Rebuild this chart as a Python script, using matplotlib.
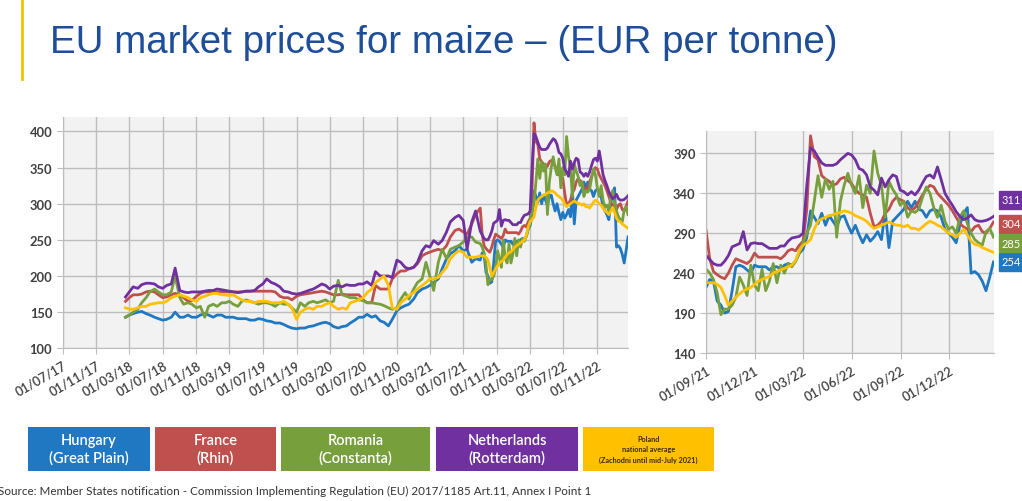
import matplotlib
matplotlib.use('Agg')
import matplotlib.pyplot as plt
import matplotlib.dates as mdates
from matplotlib.patches import Rectangle
from matplotlib.lines import Line2D
import pandas as pd

# ----- data ---------------------------------------------------------------
# semi-monthly readings Feb 2018 - Aug 2021, weekly readings Sep 2021 - Feb 2023
early_dates = pd.date_range('2018-02-15', '2021-08-15', freq='SMS')
weekly_dates = pd.date_range('2021-09-01', periods=78, freq='7D')

hungary_early = [143, 146, 148, 150, 151, 148, 146, 143, 141, 139, 140, 143, 150, 143, 143, 146, 143, 143, 146, 148, 146,
                 143, 146, 146, 143, 143, 143, 141, 141, 141, 139, 139, 141, 140, 138, 137, 135, 135, 133, 130, 128, 127, 128, 128, 130,
                 131, 133, 135, 136, 134, 130, 128, 130, 131, 135, 139, 143, 143, 147, 143, 145, 138, 136, 131, 140, 152, 156, 159, 161,
                 168, 177, 182, 184, 187, 191, 196, 210, 224, 231, 235, 242, 235, 237, 219, 224]
france_early = [165, 170, 174, 174, 175, 178, 179, 178, 174, 170, 171, 174, 176, 174, 170, 165, 166, 172, 176, 178, 178,
                179, 178, 178, 178, 178, 178, 178, 178, 179, 179, 179, 179, 179, 179, 179, 178, 172, 170, 170, 167, 172, 174, 175, 176,
                177, 178, 179, 178, 176, 174, 174, 175, 174, 174, 174, 174, 167, 163, 163, 187, 182, 182, 182, 196, 203, 207, 207, 210,
                212, 217, 228, 231, 233, 235, 237, 235, 242, 254, 263, 265, 261, 258, 272, 285]
romania_early = [143, 146, 150, 154, 163, 170, 178, 182, 178, 174, 174, 178, 200, 170, 161, 163, 161, 156, 158, 143, 158,
                 161, 158, 163, 163, 165, 161, 158, 165, 167, 165, 163, 161, 163, 163, 161, 158, 163, 161, 161, 156, 150, 163, 158, 163,
                 165, 163, 165, 167, 163, 165, 194, 174, 172, 170, 170, 167, 166, 163, 163, 162, 161, 159, 156, 154, 156, 168, 177, 168,
                 182, 191, 196, 219, 200, 180, 219, 237, 224, 237, 240, 242, 247, 254, 254, 247]
netherlands_early = [171, 178, 185, 183, 188, 190, 190, 189, 185, 183, 187, 189, 211, 180, 178, 177, 178, 178, 178, 179, 180,
                     180, 182, 181, 180, 179, 178, 177, 178, 179, 179, 180, 185, 189, 196, 191, 189, 185, 179, 178, 176, 175, 176, 178, 180,
                     182, 185, 189, 187, 182, 186, 187, 185, 188, 187, 187, 189, 189, 192, 187, 206, 200, 200, 200, 198, 222, 219, 212, 210,
                     212, 219, 235, 242, 240, 249, 244, 249, 261, 275, 281, 284, 277, 237, 275, 290]
poland_early = [156, 154, 154, 156, 158, 158, 161, 162, 163, 163, 165, 170, 172, 174, 172, 170, 167, 165, 170, 172, 174,
                176, 176, 174, 174, 173, 174, 170, 167, 165, 165, 163, 165, 165, 165, 163, 163, 163, 165, 161, 156, 140, 150, 154, 156,
                154, 158, 158, 161, 163, 158, 154, 156, 154, 163, 165, 167, 170, 177, 182, 191, 196, 200, 187, 156, 154, 163, 168, 173,
                177, 182, 187, 191, 196, 196, 198, 205, 212, 224, 231, 235, 233, 226, 226, 226]

hungary_weekly = [222, 232, 230, 205, 200, 190, 192, 218, 248, 250, 248, 244, 240,
                  250, 248, 248, 248, 244, 248, 248, 245, 250, 252, 250, 255, 265,
                  270, 285, 318, 310, 302, 315, 300, 312, 305, 298, 310, 312, 300,
                  290, 300, 288, 278, 288, 280, 285, 292, 282, 318, 272, 305, 310,
                  315, 320, 330, 322, 330, 320, 318, 310, 318, 320, 318, 310, 295,
                  290, 285, 278, 300, 315, 322, 240, 242, 238, 230, 218, 235, 254]
france_weekly = [294, 258, 242, 238, 235, 233, 240, 250, 258, 256, 254, 252, 256,
                 265, 260, 260, 260, 260, 260, 260, 258, 262, 268, 270, 268, 275,
                 280, 320, 412, 386, 382, 362, 358, 355, 350, 352, 358, 360, 356,
                 352, 345, 340, 338, 335, 315, 298, 300, 305, 315, 320, 330, 335,
                 332, 330, 322, 318, 322, 330, 338, 345, 350, 348, 340, 335, 330,
                 325, 318, 310, 302, 298, 295, 292, 298, 300, 292, 290, 296, 304]
romania_weekly = [245, 240, 232, 215, 188, 195, 195, 200, 210, 235, 225, 212, 250,
                  225, 218, 245, 218, 230, 252, 228, 250, 240, 252, 248, 255, 265,
                  278, 290, 300, 330, 362, 335, 358, 345, 355, 285, 330, 350, 365,
                  350, 340, 362, 322, 350, 340, 393, 365, 350, 310, 355, 345, 338,
                  325, 330, 310, 318, 316, 320, 335, 348, 340, 322, 310, 325, 305,
                  295, 298, 290, 310, 318, 302, 290, 282, 278, 275, 292, 296, 285]
netherlands_weekly = [262, 257, 252, 250, 250, 255, 262, 273, 275, 277, 292, 269, 277,
                      278, 277, 277, 274, 271, 271, 271, 274, 274, 280, 284, 285, 286,
                      290, 350, 397, 393, 385, 378, 375, 375, 375, 377, 382, 386, 390,
                      388, 382, 371, 369, 363, 348, 344, 338, 359, 348, 357, 363, 361,
                      344, 342, 338, 342, 338, 344, 353, 361, 363, 359, 373, 357, 340,
                      332, 325, 317, 311, 307, 309, 313, 307, 305, 305, 306, 308, 311]
poland_weekly = [228, 228, 228, 226, 222, 212, 200, 205, 210, 214, 218, 220, 222,
                 226, 230, 232, 234, 236, 240, 242, 244, 246, 248, 250, 256, 268,
                 275, 278, 282, 295, 305, 308, 310, 312, 313, 315, 316, 318, 317,
                 315, 312, 310, 308, 305, 300, 296, 298, 300, 302, 304, 302, 300,
                 300, 298, 300, 296, 296, 294, 298, 302, 305, 303, 300, 298, 294,
                 290, 288, 285, 290, 295, 288, 280, 276, 275, 272, 270, 268, 266]

countries = ['Hungary', 'France', 'Romania', 'Netherlands', 'Poland']
legend_labels = ['Hungary\n(Great Plain)', 'France\n(Rhin)', 'Romania\n(Constanta)',
                 'Netherlands\n(Rotterdam)', 'Poland\nnational average\n(Zachodni until mid-July 2021)']
colours = ['#1f78c1', '#c0504d', '#77a03c', '#7030a0', '#ffc000']

left_ticks = pd.date_range('2017-07-01', '2022-11-01', freq='4MS')
right_ticks = pd.date_range('2021-09-01', '2022-12-01', freq='3MS')

title = 'EU market prices for maize \u2013 (EUR per tonne)'
source = 'Source: Member States notification - Commission Implementing Regulation (EU) 2017/1185 Art.11, Annex I Point 1'

# ----- build series ---------------------------------------------------------
all_dates = early_dates.append(weekly_dates)
prices = pd.DataFrame({
    'Hungary': hungary_early + hungary_weekly,
    'France': france_early + france_weekly,
    'Romania': romania_early + romania_weekly,
    'Netherlands': netherlands_early + netherlands_weekly,
    'Poland': poland_early + poland_weekly,
}, index=all_dates)
recent = prices.loc['2021-09-01':]

plt.rcParams['font.family'] = ['Lato', 'DejaVu Sans']

fig = plt.figure(figsize=(10.22, 5.02), dpi=100, facecolor='w')
W, H = 1022.0, 502.0


def px_box(x0, x1, ytop, ybot):
    return [x0 / W, 1 - ybot / H, (x1 - x0) / W, (ybot - ytop) / H]


def style_axes(ax):
    ax.set_facecolor('#f2f2f2')
    ax.grid(True, color='#bdbdbd', lw=1.0)
    ax.set_axisbelow(True)
    for s in ['top', 'right']:
        ax.spines[s].set_visible(False)
    for s in ['left', 'bottom']:
        ax.spines[s].set_color('#bdbdbd')
    ax.tick_params(axis='both', length=4, color='#bdbdbd', labelcolor='#3f3f3f', labelsize=9.3)
    ax.xaxis.set_major_formatter(mdates.DateFormatter('%d/%m/%y'))
    for lab in ax.get_yticklabels():
        lab.set_fontweight('bold')
    plt.setp(ax.get_xticklabels(), rotation=30, ha='right', rotation_mode='anchor',
             fontweight='semibold')


# ----- left panel: full history ----------------------------------------------
ax1 = fig.add_axes(px_box(62.7, 628.3, 118, 349.3))
for c, col in zip(countries, colours):
    ax1.plot(prices.index, prices[c], color=col, lw=2.0)
ax1.set_xlim(pd.Timestamp('2017-07-01'), pd.Timestamp('2023-02-23'))
ax1.set_ylim(100, 420)
ax1.set_yticks(range(100, 401, 50))
ax1.set_xticks(left_ticks)
style_axes(ax1)

# ----- right panel: since Sep 2021 -------------------------------------------
ax2 = fig.add_axes(px_box(706, 994, 132, 354))
for c, col in zip(countries, colours):
    ax2.plot(recent.index, recent[c], color=col, lw=2.0)
ax2.set_xlim(pd.Timestamp('2021-09-01'), pd.Timestamp('2023-02-23'))
ax2.set_ylim(140, 418)
ax2.set_yticks(range(140, 391, 50))
ax2.set_xticks(right_ticks)
style_axes(ax2)

# last values as coloured tags
tag_y = {'Netherlands': 201, 'France': 225, 'Romania': 244, 'Hungary': 263}
for c, col in zip(countries, colours):
    if c in tag_y:
        fig.text(1002 / W, 1 - tag_y[c] / H, '%d' % recent[c].iloc[-1], color='white', fontsize=8,
                 va='center', ha='left',
                 bbox=dict(boxstyle='square,pad=0.3', fc=col, ec=col))

# ----- header ------------------------------------------------------------------
fig.add_artist(Line2D([22 / W, 22 / W], [1, 1 - 80 / H], color='#f2c300', lw=2))
fig.text(50 / W, 1 - 43 / H, title, fontsize=27.7, color='#1f4e99', va='center', ha='left',
         family=['Liberation Sans', 'DejaVu Sans'])

# ----- legend boxes ------------------------------------------------------------
box_x = [(28, 150), (155, 276), (281, 430), (436, 578), (583, 714)]
for (x0, x1), lab, col in zip(box_x, legend_labels, colours):
    fig.add_artist(Rectangle((x0 / W, 1 - 472 / H), (x1 - x0) / W, 44 / H,
                             transform=fig.transFigure, fc=col, ec='none'))
    if col == '#ffc000':
        fig.text((x0 + x1) / 2 / W, 1 - 450 / H, lab, color='#3a2a00', fontsize=5.2,
                 fontweight='bold', ha='center', va='center', linespacing=1.6)
    else:
        fig.text((x0 + x1) / 2 / W, 1 - 450 / H, lab, color='white', fontsize=10.5,
                 fontweight='semibold', ha='center', va='center', linespacing=1.3)

fig.text(-2 / W, 1 - 491 / H, source, fontsize=8.4, color='#333333', va='center', ha='left')

fig.savefig('out.png', dpi=100)
